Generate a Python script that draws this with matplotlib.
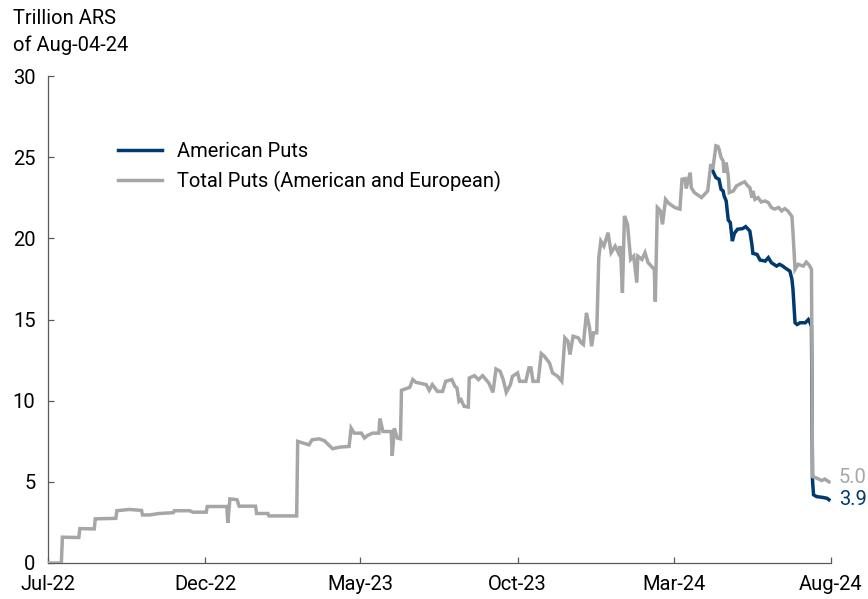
import matplotlib
matplotlib.use("Agg")
import matplotlib.pyplot as plt
import matplotlib.dates as mdates
import pandas as pd

plt.rcParams['font.family'] = ['Roboto', 'DejaVu Sans']

# ---------------- data ----------------
total_dates = [
    "2022-07-01", "2022-07-14", "2022-07-15", "2022-07-31", "2022-08-01", "2022-08-15",
    "2022-08-16", "2022-09-05", "2022-09-06", "2022-09-18", "2022-09-28", "2022-09-30",
    "2022-10-01", "2022-10-08", "2022-10-17", "2022-10-31", "2022-11-01", "2022-11-16",
    "2022-11-19", "2022-12-02", "2022-12-03", "2022-12-22", "2022-12-23", "2022-12-25",
    "2023-01-01", "2023-01-03", "2023-01-19", "2023-01-20", "2023-01-31", "2023-02-01",
    "2023-02-28", "2023-03-01", "2023-03-12", "2023-03-15", "2023-03-22", "2023-03-27",
    "2023-04-01", "2023-04-04", "2023-04-11", "2023-04-20", "2023-04-22", "2023-04-25",
    "2023-05-02", "2023-05-05", "2023-05-08", "2023-05-13", "2023-05-19", "2023-05-20",
    "2023-05-23", "2023-05-31", "2023-06-01", "2023-06-03", "2023-06-06", "2023-06-09",
    "2023-06-10", "2023-06-18", "2023-06-21", "2023-06-24", "2023-07-04", "2023-07-07",
    "2023-07-10", "2023-07-15", "2023-07-20", "2023-07-23", "2023-07-29", "2023-08-01",
    "2023-08-03", "2023-08-05", "2023-08-07", "2023-08-10", "2023-08-14", "2023-08-15",
    "2023-08-20", "2023-08-24", "2023-08-28", "2023-09-03", "2023-09-07", "2023-09-10",
    "2023-09-14", "2023-09-17", "2023-09-20", "2023-09-24", "2023-09-26", "2023-10-01",
    "2023-10-03", "2023-10-09", "2023-10-12", "2023-10-14", "2023-10-16", "2023-10-21",
    "2023-10-24", "2023-10-27", "2023-11-01", "2023-11-04", "2023-11-09", "2023-11-13",
    "2023-11-16", "2023-11-19", "2023-11-21", "2023-11-24", "2023-11-29", "2023-12-02",
    "2023-12-04", "2023-12-07", "2023-12-10", "2023-12-12", "2023-12-14", "2023-12-17",
    "2023-12-19", "2023-12-21", "2023-12-24", "2023-12-28", "2023-12-31", "2024-01-04",
    "2024-01-07", "2024-01-09", "2024-01-11", "2024-01-13", "2024-01-16", "2024-01-19",
    "2024-01-22", "2024-01-25", "2024-01-26", "2024-01-30", "2024-02-02", "2024-02-05",
    "2024-02-08", "2024-02-11", "2024-02-12", "2024-02-14", "2024-02-17", "2024-02-19",
    "2024-02-22", "2024-02-25", "2024-03-02", "2024-03-07", "2024-03-09", "2024-03-12",
    "2024-03-13", "2024-03-17", "2024-03-18", "2024-03-21", "2024-03-28", "2024-03-31",
    "2024-04-03", "2024-04-06", "2024-04-08", "2024-04-11", "2024-04-13", "2024-04-14",
    "2024-04-16", "2024-04-18", "2024-04-19", "2024-04-21", "2024-04-23", "2024-04-24",
    "2024-04-28", "2024-05-01", "2024-05-06", "2024-05-09", "2024-05-12", "2024-05-14",
    "2024-05-16", "2024-05-17", "2024-05-19", "2024-05-22", "2024-05-25", "2024-05-29",
    "2024-06-01", "2024-06-04", "2024-06-07", "2024-06-11", "2024-06-14", "2024-06-17",
    "2024-06-20", "2024-06-24", "2024-06-25", "2024-06-27", "2024-06-30", "2024-07-05",
    "2024-07-08", "2024-07-11", "2024-07-13", "2024-07-14", "2024-07-18", "2024-07-23",
    "2024-07-26", "2024-07-30",
]
total_values = [
    0.00, 0.00, 1.59, 1.57, 2.12, 2.10,
    2.72, 2.75, 3.22, 3.30, 3.25, 3.24,
    2.96, 2.96, 3.05, 3.10, 3.22, 3.22,
    3.13, 3.13, 3.48, 3.48, 2.47, 3.95,
    3.90, 3.50, 3.50, 3.05, 3.05, 2.90,
    2.90, 7.49, 7.28, 7.59, 7.65, 7.53,
    7.22, 7.04, 7.14, 7.18, 8.31, 8.00,
    8.00, 7.70, 7.86, 8.00, 8.00, 8.90,
    8.10, 8.10, 6.60, 8.30, 7.70, 7.65,
    10.64, 10.82, 11.30, 11.13, 10.99, 10.64,
    10.99, 10.57, 10.57, 11.19, 11.30, 10.88,
    10.78, 9.96, 10.06, 9.65, 9.61, 11.40,
    11.54, 11.30, 11.54, 11.09, 10.51, 11.95,
    11.81, 11.30, 10.51, 10.99, 11.50, 11.71,
    11.19, 11.19, 12.02, 12.02, 11.19, 11.19,
    12.90, 12.74, 12.33, 11.71, 11.50, 11.19,
    13.87, 13.66, 12.84, 13.97, 13.87, 13.56,
    13.46, 15.41, 14.49, 13.35, 14.18, 14.18,
    18.80, 19.83, 19.52, 20.35, 19.12, 19.52,
    19.12, 19.52, 16.65, 21.38, 20.86, 18.70,
    18.90, 17.27, 18.90, 18.70, 19.12, 18.50,
    18.29, 18.09, 16.10, 21.90, 21.70, 20.86,
    22.40, 22.16, 21.90, 21.80, 23.64, 23.68,
    23.07, 24.05, 23.13, 22.82, 22.51, 22.72,
    22.92, 24.57, 24.26, 25.70, 25.66, 25.50,
    24.98, 24.77, 24.05, 24.67, 23.85, 22.82,
    22.92, 23.23, 23.40, 23.48, 23.23, 23.13,
    22.51, 22.92, 22.40, 22.51, 22.24, 22.30,
    22.20, 21.90, 21.80, 21.90, 21.69, 21.83,
    21.69, 21.34, 20.35, 18.09, 18.40, 18.29,
    18.54, 18.33, 18.09, 5.33, 5.23, 5.08,
    5.17, 5.00,
]

american_dates = [
    "2024-04-08", "2024-04-11", "2024-04-14", "2024-04-16", "2024-04-18", "2024-04-19",
    "2024-04-21", "2024-04-23", "2024-04-25", "2024-04-27", "2024-04-29", "2024-05-02",
    "2024-05-07", "2024-05-10", "2024-05-14", "2024-05-16", "2024-05-17", "2024-05-21",
    "2024-05-24", "2024-05-29", "2024-06-01", "2024-06-04", "2024-06-09", "2024-06-12",
    "2024-06-15", "2024-06-18", "2024-06-22", "2024-06-24", "2024-06-25", "2024-06-27",
    "2024-06-29", "2024-07-02", "2024-07-07", "2024-07-10", "2024-07-11", "2024-07-13",
    "2024-07-14", "2024-07-15", "2024-07-18", "2024-07-23", "2024-07-28", "2024-07-30",
]
american_values = [
    24.15, 23.74, 23.64, 23.02, 22.92, 22.61,
    22.30, 21.13, 20.97, 19.83, 20.31, 20.56,
    20.60, 20.72, 20.45, 19.63, 19.07, 19.01,
    18.66, 18.60, 18.81, 18.50, 18.29, 18.40,
    18.29, 18.15, 17.98, 17.47, 16.85, 14.80,
    14.69, 14.80, 14.80, 15.00, 14.90, 14.59,
    5.10, 4.20, 4.09, 4.05, 3.99, 3.90,
]

series_labels = ["American Puts", "Total Puts (American and European)"]
x_tick_dates = ["2022-07-01", "2022-12-01", "2023-05-01", "2023-10-01", "2024-03-01", "2024-08-01"]
x_tick_labels = ["Jul-22", "Dec-22", "May-23", "Oct-23", "Mar-24", "Aug-24"]
y_ticks = [0, 5, 10, 15, 20, 25, 30]
unit_title = "Trillion ARS\nof Aug-04-24"

# ---------------- style ----------------
GRAY = "#A6A6A6"
NAVY = "#003A70"
AXIS = "#595959"
FS = 14.5

fig = plt.figure(figsize=(8.68, 5.99), dpi=100)
ax = fig.add_axes([48 / 868, 1 - 563 / 599, (831 - 48) / 868, (563 - 76) / 599])

td = pd.to_datetime(total_dates)
ad = pd.to_datetime(american_dates)

l_am, = ax.plot(ad, american_values, color=NAVY, lw=2.5, zorder=3,
                solid_joinstyle="miter", label=series_labels[0])
l_tot, = ax.plot(td, total_values, color=GRAY, lw=2.5, zorder=4,
                 solid_joinstyle="miter", label=series_labels[1])

ax.set_xlim(pd.Timestamp(x_tick_dates[0]), pd.Timestamp(x_tick_dates[-1]))
ax.set_ylim(y_ticks[0], y_ticks[-1])
ax.set_xticks(pd.to_datetime(x_tick_dates))
ax.set_xticklabels(x_tick_labels)
ax.set_yticks(y_ticks)

for s in ["top", "right"]:
    ax.spines[s].set_visible(False)
for s in ["left", "bottom"]:
    ax.spines[s].set_color(AXIS)
    ax.spines[s].set_linewidth(0.9)

ax.tick_params(axis="both", direction="in", length=4, width=0.9, color=AXIS,
               labelsize=FS, labelcolor="black")
ax.tick_params(axis="y", pad=9)
ax.tick_params(axis="x", pad=9)

# end labels
ax.annotate(f"{total_values[-1]:.1f}", xy=(td[-1], total_values[-1]),
            xytext=(7, 3), textcoords="offset points", va="center", ha="left",
            color=GRAY, fontsize=FS, annotation_clip=False)
ax.annotate(f"{american_values[-1]:.1f}", xy=(ad[-1], american_values[-1]),
            xytext=(7, 0), textcoords="offset points", va="center", ha="left",
            color=NAVY, fontsize=FS, annotation_clip=False)

# legend
leg = ax.legend(handles=[l_am, l_tot], loc="upper left",
                bbox_to_anchor=(118 / 868, 1 - 142 / 599), bbox_transform=fig.transFigure,
                frameon=False, fontsize=FS, handlelength=2.2, handletextpad=0.72,
                labelspacing=0.5, borderpad=0, borderaxespad=0)

fig.text(13 / 868, 1 - 9 / 599, unit_title, ha="left", va="top", fontsize=FS,
         linespacing=1.5)

fig.savefig("out.png", dpi=100)
